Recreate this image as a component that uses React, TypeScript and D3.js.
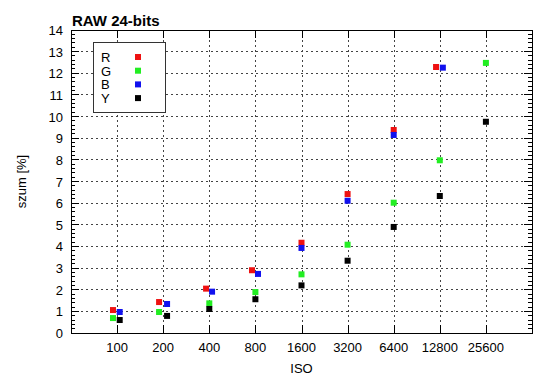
import React from "react"
import * as d3 from "d3"

const isoTicks = [100, 200, 400, 800, 1600, 3200, 6400, 12800, 25600]
const yTicks = d3.range(0, 15)

// measured ISO per series (points are slightly shifted around the nominal ISO)
const isoR = [94, 188, 381, 760, 1600, 3200, 6400, 12100]
const valR = [1.06, 1.43, 2.05, 2.9, 4.17, 6.42, 9.38, 12.29]
const isoG = [94, 188, 400, 800, 1600, 3200, 6400, 12800, 25600]
const valG = [0.69, 0.97, 1.37, 1.89, 2.71, 4.08, 6.02, 7.98, 12.48]
const isoB = [104, 212, 417, 832, 1600, 3200, 6400, 13400]
const valB = [0.97, 1.34, 1.91, 2.73, 3.93, 6.11, 9.15, 12.26]
const isoY = [104, 212, 400, 800, 1600, 3200, 6400, 12800, 25600]
const valY = [0.6, 0.79, 1.11, 1.56, 2.2, 3.34, 4.9, 6.33, 9.76]

const series = [
  { name: "R", color: "#ee1111", iso: isoR, val: valR },
  { name: "G", color: "#22ee22", iso: isoG, val: valG },
  { name: "B", color: "#1111ee", iso: isoB, val: valB },
  { name: "Y", color: "#000000", iso: isoY, val: valY },
]

const W = 550
const H = 389
const left = 71
const right = 532
const top = 30
const bottom = 333
const font = "'Liberation Sans', Arial, sans-serif"

export default function App() {
  const x = d3.scaleLog().base(2).domain([50, 51200]).range([left, right])
  const y = d3.scaleLinear().domain([0, 14]).range([bottom, top])
  const minor = d3.range(0, 14, 0.2).filter(v => Math.abs(v - Math.round(v)) > 0.01)

  return (
    <svg
      width={W}
      height={H}
      style={{ position: "absolute", left: 0, top: 0, background: "#fff" }}
      fontFamily={font}
    >
      <rect width={W} height={H} fill="#fff" />

      {/* grid */}
      {yTicks.slice(1, -1).map(t => (
        <line key={"gy" + t} x1={left} x2={right} y1={y(t)} y2={y(t)}
          stroke="#444" strokeWidth={1} strokeDasharray="2,3" shapeRendering="crispEdges" />
      ))}
      {isoTicks.map(t => (
        <line key={"gx" + t} x1={Math.round(x(t))} x2={Math.round(x(t))} y1={top} y2={bottom}
          stroke="#444" strokeWidth={1} strokeDasharray="2,3" shapeRendering="crispEdges" />
      ))}

      {/* ticks */}
      {yTicks.map(t => (
        <g key={"ty" + t} stroke="#000" shapeRendering="crispEdges">
          <line x1={left} x2={left + 8} y1={y(t)} y2={y(t)} />
          <line x1={right - 8} x2={right} y1={y(t)} y2={y(t)} />
        </g>
      ))}
      {minor.map(t => (
        <g key={"my" + t} stroke="#000" shapeRendering="crispEdges">
          <line x1={left} x2={left + 4} y1={y(t)} y2={y(t)} />
          <line x1={right - 4} x2={right} y1={y(t)} y2={y(t)} />
        </g>
      ))}
      {isoTicks.map(t => (
        <g key={"tx" + t} stroke="#000" shapeRendering="crispEdges">
          <line x1={Math.round(x(t))} x2={Math.round(x(t))} y1={bottom} y2={bottom - 8} />
          <line x1={Math.round(x(t))} x2={Math.round(x(t))} y1={top} y2={top + 8} />
        </g>
      ))}

      {/* frame */}
      <rect x={left} y={top} width={right - left} height={bottom - top}
        fill="none" stroke="#000" strokeWidth={1} shapeRendering="crispEdges" />

      {/* tick labels */}
      {yTicks.map(t => (
        <text key={"ly" + t} x={left - 8} y={y(t) + 5} textAnchor="end" fontSize={13}>{t}</text>
      ))}
      {isoTicks.map(t => (
        <text key={"lx" + t} x={x(t)} y={352} textAnchor="middle" fontSize={13}>{t}</text>
      ))}

      {/* axis titles */}
      <text x={(left + right) / 2} y={373} textAnchor="middle" fontSize={13}>ISO</text>
      <text transform={`translate(26,${(top + bottom) / 2}) rotate(-90)`} textAnchor="middle" fontSize={13}>szum [%]</text>
      <text x={72} y={26} fontSize={15} fontWeight="bold">RAW 24-bits</text>

      {/* points */}
      {series.map(s => (
        <g key={s.name} fill={s.color}>
          {s.val.map((v, i) => (
            <rect key={i} x={x(s.iso[i]) - 3} y={y(v) - 3} width={6} height={6} />
          ))}
        </g>
      ))}

      {/* legend */}
      <rect x={93.5} y={42.5} width={72} height={70} fill="#fff" stroke="#333" shapeRendering="crispEdges" />
      {series.map((s, i) => (
        <g key={"lg" + s.name}>
          <text x={101} y={62 + i * 13.7} fontSize={13}>{s.name}</text>
          <rect x={135} y={54 + i * 13.7} width={6} height={6} fill={s.color} />
        </g>
      ))}
    </svg>
  )
}
